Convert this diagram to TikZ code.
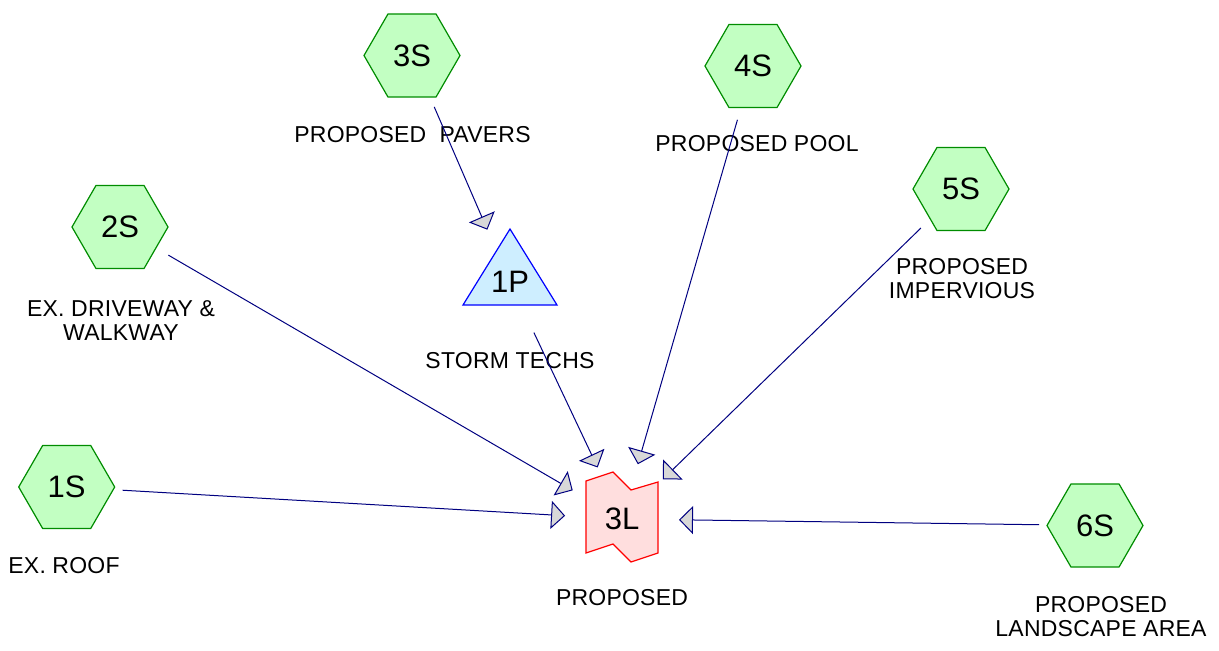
\documentclass[tikz,border=0pt]{standalone}
\usepackage{fontspec}
\usetikzlibrary{arrows.meta,shapes.geometric}
\newfontfamily\lblfont{Liberation Sans}[LetterSpace=1]
\newfontfamily\idfont{Liberation Sans}

\definecolor{hexfill}{RGB}{194,255,194}
\definecolor{hexline}{RGB}{0,140,0}
\definecolor{pondfill}{RGB}{206,238,255}
\definecolor{pondline}{RGB}{0,0,255}
\definecolor{linkfill}{RGB}{255,222,222}
\definecolor{linkline}{RGB}{255,0,0}
\definecolor{flowline}{RGB}{0,0,128}
\definecolor{tipfill}{RGB}{216,216,216}

\tikzset{
  idtext/.style={font={\idfont\fontsize{31pt}{31pt}\selectfont}, inner sep=0pt},
  subcat/.style={idtext, regular polygon, regular polygon sides=6,
    minimum size=96pt, draw=hexline, fill=hexfill, line width=1.2pt},
  pondshape/.style={draw=pondline, fill=pondfill, line width=1.2pt, line join=miter},
  linkshape/.style={draw=linkline, fill=linkfill, line width=1.2pt},
  lbl/.style={font={\lblfont\fontsize{23pt}{24pt}\selectfont}, inner sep=0pt, align=center},
  flow/.style={draw=flowline, line width=1pt, shorten <=56pt, shorten >=57pt,
    -{Triangle[length=14pt,width=28pt,fill=tipfill]}},
}

\begin{document}
\begin{tikzpicture}[x=1pt,y=-1pt]
\useasboundingbox (0,0) rectangle (1219,651);

% subcatchments
\node[subcat] (s1) at (66.7,487) {1S};
\node[subcat] (s2) at (120,227) {2S};
\node[subcat] (s3) at (412,55.5) {3S};
\node[subcat] (s4) at (753,66) {4S};
\node[subcat] (s5) at (961,189) {5S};
\node[subcat] (s6) at (1095,525.5) {6S};

% pond (triangle)
\coordinate (pc) at (510,282);
\path[pondshape] (pc) ++(0,-53) -- ++(47,76) -- ++(-94,0) -- cycle;
\node[idtext] (p1) at (pc) {1P};

% link (flag shape)
\coordinate (lc) at (622,517);
\path[linkshape] (lc) ++(-36,-36) -- ++(27,-9) -- ++(18,18) -- ++(27,-8)
  -- ++(0,71) -- ++(-27,9) -- ++(-18,-18) -- ++(-27,9) -- cycle;
\node[idtext] (l3) at (622,519) {3L};

% labels
\node[lbl] (t1) at (64,566) {EX. ROOF};
\node[lbl] (t2) at (121,321) {EX. DRIVEWAY \&\\WALKWAY};
\node[lbl] (t3) at (412.5,135) {PROPOSED~~PAVERS};
\node[lbl] (t4) at (757,144) {PROPOSED POOL};
\node[lbl] (t5) at (962,279) {PROPOSED\\IMPERVIOUS};
\node[lbl] (t6) at (1101,617) {PROPOSED\\LANDSCAPE AREA};
\node[lbl] (tp) at (510,361) {STORM TECHS};
\node[lbl] (tl) at (622,597.5) {PROPOSED};

% flows
\draw[flow] (s3.center) -- (p1.center);
\draw[flow] (s1.center) -- (l3.center);
\draw[flow] (s2.center) -- (l3.center);
\draw[flow] (p1.center) -- (l3.center);
\draw[flow] (s4.center) -- (l3.center);
\draw[flow] (s5.center) -- (l3.center);
\draw[flow] (s6.center) -- (l3.center);
\end{tikzpicture}
\end{document}
